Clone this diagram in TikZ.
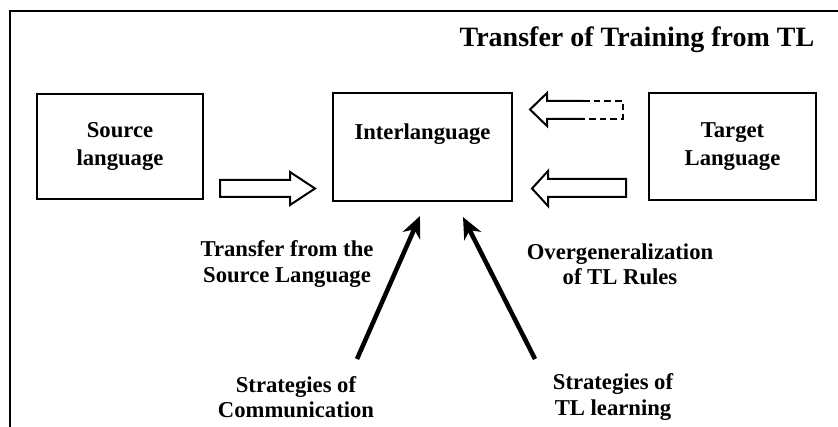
\documentclass[tikz,border=0pt]{standalone}
\usepackage{fontspec}
\setmainfont{Liberation Serif}
\usetikzlibrary{arrows.meta}
\begin{document}
\begin{tikzpicture}[x=0.75pt,y=-0.75pt,
  box/.style={draw,line width=1.5pt,rectangle,inner sep=0pt,align=center,font=\fontsize{17}{20.5}\selectfont\bfseries},
  lbl/.style={align=center,inner sep=0pt,font=\fontsize{17}{19}\selectfont\bfseries},
  titlefont/.style={inner sep=0pt,font=\fontsize{21}{25}\selectfont\bfseries},
  hollow/.style={draw,line width=1.5pt,line join=miter},
  dashedpart/.style={draw,line width=1.5pt,dash pattern=on 5pt off 3pt},
  bigarrow/.style={line width=3.4pt,-{Stealth[length=16pt,width=14pt,inset=5pt]}}]
\useasboundingbox (0,0) rectangle (838,427);
\fill[white] (0,0) rectangle (838,427);
% frame
\draw[line width=2pt] (10,427) -- (10,11) -- (838,11);
% title
\node[titlefont,anchor=base] (title) at (637,47) {Transfer of Training from TL};
% boxes
\node[box,minimum width=124.5pt,minimum height=78.75pt] (src) at (120,146.5) {Source\\language};
\node[box,minimum width=134.25pt,minimum height=81pt] (inter) at (422.5,147) {};
\node[lbl,anchor=base] (intertext) at (422.5,140) {Interlanguage};
\node[box,minimum width=125.25pt,minimum height=80.25pt] (tgt) at (732.5,146.5) {Target\\Language};
% hollow arrows
\draw[hollow] (220,180) -- (290,180) -- (290,172) -- (315,188.5) -- (290,205) -- (290,197) -- (220,197) -- cycle;
\draw[hollow] (626,179) -- (548,179) -- (548,171) -- (532,188.5) -- (548,206) -- (548,197) -- (626,197) -- cycle;
\draw[hollow] (583,101) -- (547,101) -- (547,93) -- (530,109.5) -- (547,126) -- (547,119) -- (583,119);
\draw[dashedpart] (583,101) -- (623,101) -- (623,119) -- (583,119);
% labels
\node[lbl] (lsrc) at (287,264) {Transfer from the\\Source Language};
\node[lbl] (lover) at (620,264) {Overgeneralization\\of TL Rules};
\node[lbl] (lcomm) at (296,397) {Strategies of\\Communication};
\node[lbl] (llearn) at (613,397) {Strategies of\\TL learning};
% thick arrows
\coordinate (a1s) at (357,359);
\coordinate (a1e) at (420,216);
\coordinate (a2s) at (535,359);
\coordinate (a2e) at (463,217);
\draw[bigarrow] (a1s) -- (a1e);
\draw[bigarrow] (a2s) -- (a2e);
\end{tikzpicture}
\end{document}
